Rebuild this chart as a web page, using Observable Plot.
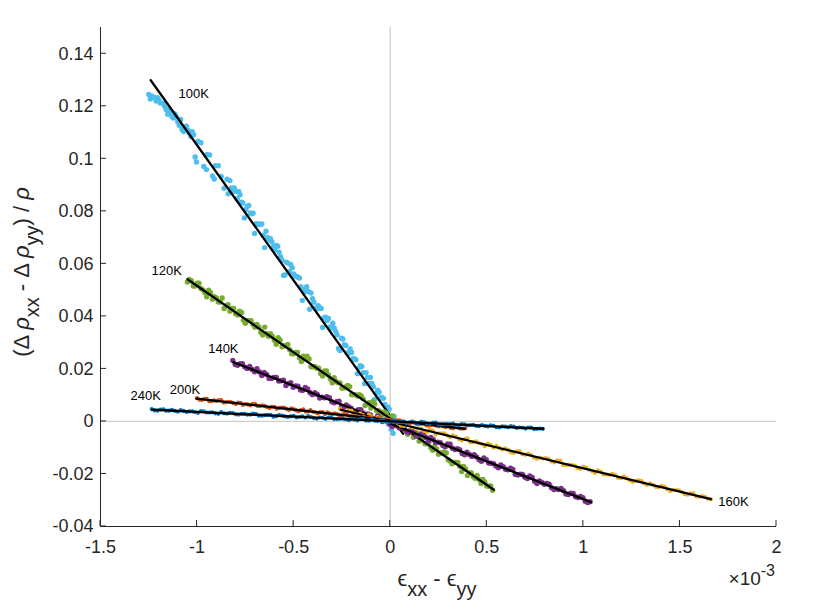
<!DOCTYPE html>
<html><head><meta charset="utf-8">
<script src="https://cdn.jsdelivr.net/npm/d3@7"></script>
<script src="https://cdn.jsdelivr.net/npm/@observablehq/plot@0.6"></script>
<style>body{margin:0;background:#fff}#chart{width:817px;height:613px}</style>
</head><body><div id="chart"></div>
<script>
const temps = ["100K","120K","140K","160K","200K","240K"];
const colors = ["#4DBEEE","#77AC30","#7E2F8E","#EDB120","#D95319","#0072BD"];
const dotRadius = [2.7, 2.7, 2.7, 2.1, 2.1, 2.1];
const xTicks = [-1.5,-1,-0.5,0,0.5,1,1.5,2];
const yTicks = [-0.04,-0.02,0,0.02,0.04,0.06,0.08,0.1,0.12,0.14];

const pts100 = [[-1.250,0.1245],[-1.242,0.1228],[-1.235,0.1239],[-1.220,0.1234],[-1.212,0.1220],[-1.205,0.1233],[-1.198,0.1225],[-1.190,0.1213],[-1.175,0.1212],[-1.168,0.1200],[-1.160,0.1187],[-1.152,0.1170],[-1.145,0.1191],[-1.138,0.1180],[-1.130,0.1161],[-1.122,0.1155],[-1.115,0.1171],[-1.108,0.1160],[-1.100,0.1140],[-1.092,0.1128],[-1.085,0.1150],[-1.078,0.1112],[-1.070,0.1104],[-1.062,0.1118],[-1.055,0.1124],[-1.048,0.1110],[-1.040,0.1098],[-1.032,0.1085],[-1.025,0.1103],[-1.018,0.1092],[-1.010,0.1007],[-1.003,0.0988],[-0.995,0.1067],[-0.980,0.1061],[-0.965,0.0971],[-0.951,0.0959],[-0.950,0.1016],[-0.935,0.1015],[-0.920,0.0935],[-0.911,0.0923],[-0.905,0.0974],[-0.890,0.0974],[-0.875,0.0933],[-0.860,0.0888],[-0.845,0.0922],[-0.839,0.0867],[-0.830,0.0917],[-0.815,0.0877],[-0.800,0.0876],[-0.785,0.0876],[-0.770,0.0835],[-0.755,0.0775],[-0.740,0.0819],[-0.725,0.0794],[-0.710,0.0793],[-0.695,0.0753],[-0.680,0.0752],[-0.665,0.0752],[-0.650,0.0662],[-0.635,0.0701],[-0.620,0.0696],[-0.605,0.0665],[-0.590,0.0670],[-0.575,0.0644],[-0.560,0.0614],[-0.545,0.0558],[-0.530,0.0603],[-0.515,0.0598],[-0.500,0.0562],[-0.485,0.0552],[-0.470,0.0546],[-0.455,0.0461],[-0.440,0.0495],[-0.425,0.0495],[-0.410,0.0489],[-0.395,0.0454],[-0.380,0.0428],[-0.365,0.0433],[-0.350,0.0358],[-0.335,0.0397],[-0.320,0.0392],[-0.305,0.0356],[-0.290,0.0356],[-0.275,0.0330],[-0.260,0.0270],[-0.245,0.0314],[-0.230,0.0289],[-0.215,0.0259],[-0.200,0.0263],[-0.185,0.0238],[-0.170,0.0182],[-0.155,0.0212],[-0.140,0.0186],[-0.125,0.0186],[-0.110,0.0145],[-0.095,0.0145],[-0.080,0.0084],[-0.065,0.0119],[-0.050,0.0089],[-0.035,0.0088],[-0.020,0.0033],[-0.010,-0.0010],[-0.005,0.0047],[0.000,0.0010],[0.005,-0.0030],[0.010,0.0002],[0.015,-0.0045],[0.020,0.0020],[0.025,0.0001],[0.030,-0.0015]];
const pts100b = [[-0.8225,0.0889],[-0.8075,0.0889],[-0.7925,0.0848],[-0.7775,0.0863],[-0.7625,0.0832],[-0.7475,0.0807],[-0.7325,0.0822],[-0.7175,0.0791],[-0.7025,0.0716],[-0.6875,0.0750],[-0.6725,0.0750],[-0.6575,0.0709],[-0.6425,0.0724],[-0.6275,0.0693],[-0.6125,0.0683],[-0.5975,0.0653],[-0.5825,0.0667],[-0.5675,0.0627],[-0.5525,0.0556],[-0.5375,0.0606],[-0.5225,0.0570],[-0.5075,0.0585],[-0.4925,0.0554],[-0.4775,0.0549],[-0.4625,0.0513],[-0.4475,0.0503],[-0.4325,0.0513],[-0.4175,0.0427],[-0.4025,0.0467],[-0.3875,0.0431],[-0.3725,0.0441],[-0.3575,0.0430],[-0.3425,0.0395],[-0.3275,0.0384],[-0.3125,0.0359],[-0.2975,0.0374],[-0.2825,0.0343],[-0.2675,0.0278],[-0.2525,0.0317],[-0.2375,0.0292],[-0.2225,0.0261],[-0.2075,0.0276],[-0.1925,0.0240],[-0.1775,0.0235],[-0.1625,0.0204],[-0.1475,0.0209],[-0.1325,0.0144],[-0.1175,0.0168],[-0.1025,0.0168],[-0.0875,0.0132],[-0.0725,0.0107],[-0.0575,0.0111],[-0.0425,0.0091],[-0.0275,0.0065],[-0.0125,0.0055]];

const pts120 = [[-1.05,0.0531],[-1.03,0.0536],[-1.01,0.0516],[-0.99,0.0526],[-0.97,0.0501],[-0.95,0.0475],[-0.93,0.0490],[-0.91,0.0475],[-0.89,0.0455],[-0.87,0.0470],[-0.85,0.0440],[-0.83,0.0420],[-0.81,0.0430],[-0.79,0.0405],[-0.77,0.0415],[-0.75,0.0374],[-0.73,0.0384],[-0.71,0.0369],[-0.69,0.0369],[-0.67,0.0339],[-0.65,0.0359],[-0.63,0.0324],[-0.61,0.0324],[-0.59,0.0294],[-0.57,0.0309],[-0.55,0.0288],[-0.53,0.0293],[-0.51,0.0258],[-0.49,0.0263],[-0.47,0.0243],[-0.45,0.0248],[-0.43,0.0248],[-0.41,0.0208],[-0.39,0.0208],[-0.37,0.0203],[-0.35,0.0173],[-0.33,0.0192],[-0.31,0.0162],[-0.29,0.0167],[-0.27,0.0147],[-0.25,0.0127],[-0.23,0.0132],[-0.21,0.0132],[-0.19,0.0102],[-0.17,0.0097],[-0.15,0.0097],[-0.13,0.0061],[-0.11,0.0071],[-0.09,0.0076],[-0.07,0.0041],[-0.05,0.0036],[-0.03,0.0036],[-0.01,0.0006],[0.01,0.0021],[0.03,0.0001],[0.05,-0.0019],[0.07,-0.0024],[0.09,-0.0049],[0.11,-0.0035],[0.13,-0.0050],[0.15,-0.0075],[0.17,-0.0060],[0.19,-0.0085],[0.21,-0.0100],[0.23,-0.0095],[0.25,-0.0125],[0.27,-0.0120],[0.29,-0.0120],[0.31,-0.0151],[0.33,-0.0156],[0.35,-0.0156],[0.37,-0.0191],[0.39,-0.0181],[0.41,-0.0196],[0.43,-0.0211],[0.45,-0.0206],[0.47,-0.0236],[0.49,-0.0231],[0.51,-0.0247],[0.53,-0.0262]];
const pts120b = [[-1.04,0.0541],[-1.02,0.0516],[-1.00,0.0526],[-0.98,0.0506],[-0.96,0.0491],[-0.94,0.0500],[-0.92,0.0465],[-0.90,0.0470],[-0.88,0.0455],[-0.86,0.0430],[-0.84,0.0445],[-0.82,0.0430],[-0.80,0.0410],[-0.78,0.0420],[-0.76,0.0385],[-0.74,0.0384],[-0.72,0.0384],[-0.70,0.0359],[-0.68,0.0359],[-0.66,0.0329],[-0.64,0.0334],[-0.62,0.0334],[-0.60,0.0309],[-0.58,0.0319],[-0.56,0.0284],[-0.54,0.0288],[-0.52,0.0273],[-0.50,0.0258],[-0.48,0.0263],[-0.46,0.0228],[-0.44,0.0238],[-0.42,0.0238],[-0.40,0.0208],[-0.38,0.0203],[-0.36,0.0183],[-0.34,0.0192],[-0.32,0.0177],[-0.30,0.0147],[-0.28,0.0152],[-0.26,0.0147],[-0.24,0.0127],[-0.22,0.0137],[-0.20,0.0102],[-0.18,0.0102],[-0.16,0.0102],[-0.14,0.0086],[-0.12,0.0066],[-0.10,0.0051],[-0.08,0.0066],[-0.06,0.0041],[-0.04,0.0026],[-0.02,0.0031],[0.00,0.0016],[0.02,-0.0014],[0.04,-0.0009],[0.06,-0.0009],[0.08,-0.0035],[0.10,-0.0035],[0.12,-0.0060],[0.14,-0.0045],[0.16,-0.0070],[0.18,-0.0085],[0.20,-0.0080],[0.22,-0.0110],[0.24,-0.0105],[0.26,-0.0120],[0.28,-0.0116],[0.30,-0.0146],[0.32,-0.0161],[0.34,-0.0156],[0.36,-0.0171],[0.38,-0.0171],[0.40,-0.0206],[0.42,-0.0196],[0.44,-0.0216],[0.46,-0.0221],[0.48,-0.0221],[0.50,-0.0246],[0.52,-0.0246]];

const pts140 = [[-0.815,0.0232],[-0.790,0.0214],[-0.765,0.0220],[-0.740,0.0202],[-0.715,0.0198],[-0.690,0.0201],[-0.665,0.0175],[-0.640,0.0179],[-0.615,0.0164],[-0.590,0.0168],[-0.565,0.0155],[-0.540,0.0137],[-0.515,0.0148],[-0.490,0.0135],[-0.465,0.0120],[-0.440,0.0129],[-0.415,0.0109],[-0.390,0.0109],[-0.365,0.0089],[-0.340,0.0090],[-0.315,0.0090],[-0.290,0.0071],[-0.265,0.0077],[-0.240,0.0055],[-0.215,0.0056],[-0.190,0.0037],[-0.165,0.0045],[-0.140,0.0032],[-0.115,0.0029],[-0.090,0.0011],[-0.065,0.0021],[-0.040,0.0000],[-0.015,0.0001],[0.010,-0.0019],[0.035,-0.0017],[0.060,-0.0018],[0.085,-0.0038],[0.110,-0.0037],[0.135,-0.0056],[0.160,-0.0048],[0.185,-0.0061],[0.210,-0.0061],[0.235,-0.0080],[0.260,-0.0081],[0.285,-0.0096],[0.310,-0.0087],[0.335,-0.0107],[0.360,-0.0108],[0.385,-0.0127],[0.410,-0.0126],[0.435,-0.0127],[0.460,-0.0146],[0.485,-0.0139],[0.510,-0.0158],[0.535,-0.0161],[0.560,-0.0176],[0.585,-0.0172],[0.610,-0.0184],[0.635,-0.0183],[0.660,-0.0204],[0.685,-0.0202],[0.710,-0.0217],[0.735,-0.0213],[0.760,-0.0236],[0.785,-0.0232],[0.810,-0.0236],[0.835,-0.0252],[0.860,-0.0256],[0.885,-0.0255],[0.910,-0.0276],[0.935,-0.0273],[0.960,-0.0287],[0.985,-0.0286],[1.010,-0.0304],[1.035,-0.0306]];
const pts140b = [[-0.8025,0.0217],[-0.7775,0.0220],[-0.7525,0.0207],[-0.7275,0.0209],[-0.7025,0.0189],[-0.6775,0.0188],[-0.6525,0.0187],[-0.6275,0.0164],[-0.6025,0.0168],[-0.5775,0.0154],[-0.5525,0.0157],[-0.5275,0.0144],[-0.5025,0.0130],[-0.4775,0.0134],[-0.4525,0.0119],[-0.4275,0.0124],[-0.4025,0.0102],[-0.3775,0.0103],[-0.3525,0.0092],[-0.3275,0.0094],[-0.3025,0.0075],[-0.2775,0.0075],[-0.2525,0.0057],[-0.2275,0.0063],[-0.2025,0.0050],[-0.1775,0.0038],[-0.1525,0.0045],[-0.1275,0.0027],[-0.1025,0.0025],[-0.0775,0.0007],[-0.0525,0.0008],[-0.0275,0.0006],[-0.0025,-0.0011],[0.0225,-0.0007],[0.0475,-0.0025],[0.0725,-0.0029],[0.0975,-0.0042],[0.1225,-0.0038],[0.1475,-0.0053],[0.1725,-0.0051],[0.1975,-0.0074],[0.2225,-0.0069],[0.2475,-0.0079],[0.2725,-0.0092],[0.2975,-0.0086],[0.3225,-0.0102],[0.3475,-0.0104],[0.3725,-0.0122],[0.3975,-0.0117],[0.4225,-0.0133],[0.4475,-0.0135],[0.4725,-0.0152],[0.4975,-0.0146],[0.5225,-0.0159],[0.5475,-0.0170],[0.5725,-0.0166],[0.5975,-0.0182],[0.6225,-0.0178],[0.6475,-0.0201],[0.6725,-0.0201],[0.6975,-0.0212],[0.7225,-0.0208],[0.7475,-0.0228],[0.7725,-0.0227],[0.7975,-0.0239],[0.8225,-0.0239],[0.8475,-0.0259],[0.8725,-0.0259],[0.8975,-0.0264],[0.9225,-0.0278],[0.9475,-0.0274],[0.9725,-0.0290],[0.9975,-0.0290],[1.0225,-0.0309]];

const pts160 = [[-0.26,0.0049],[-0.23,0.0037],[-0.20,0.0041],[-0.17,0.0024],[-0.14,0.0024],[-0.11,0.0026],[-0.08,0.0011],[-0.05,0.0011],[-0.02,-0.0003],[0.01,0.0002],[0.04,-0.0008],[0.07,-0.0017],[0.10,-0.0012],[0.13,-0.0027],[0.16,-0.0027],[0.19,-0.0042],[0.22,-0.0035],[0.25,-0.0045],[0.28,-0.0045],[0.31,-0.0060],[0.34,-0.0058],[0.37,-0.0072],[0.40,-0.0064],[0.43,-0.0079],[0.46,-0.0083],[0.49,-0.0094],[0.52,-0.0089],[0.55,-0.0093],[0.58,-0.0107],[0.61,-0.0108],[0.64,-0.0120],[0.67,-0.0113],[0.70,-0.0127],[0.73,-0.0128],[0.76,-0.0142],[0.79,-0.0141],[0.82,-0.0142],[0.85,-0.0156],[0.88,-0.0149],[0.91,-0.0166],[0.94,-0.0166],[0.97,-0.0178],[1.00,-0.0173],[1.03,-0.0184],[1.06,-0.0196],[1.09,-0.0191],[1.12,-0.0202],[1.15,-0.0200],[1.18,-0.0215],[1.21,-0.0209],[1.24,-0.0224],[1.27,-0.0227],[1.30,-0.0226],[1.33,-0.0242],[1.36,-0.0241],[1.39,-0.0251],[1.42,-0.0248],[1.45,-0.0265],[1.48,-0.0261],[1.51,-0.0269],[1.54,-0.0279],[1.57,-0.0274],[1.60,-0.0287],[1.63,-0.0287],[1.66,-0.0296]];
const pts160b = [[-0.245,0.0040],[-0.215,0.0042],[-0.185,0.0031],[-0.155,0.0031],[-0.125,0.0015],[-0.095,0.0018],[-0.065,0.0017],[-0.035,0.0001],[-0.005,0.0000],[0.025,-0.0002],[0.055,-0.0016],[0.085,-0.0009],[0.115,-0.0023],[0.145,-0.0026],[0.175,-0.0036],[0.205,-0.0032],[0.235,-0.0050],[0.265,-0.0045],[0.295,-0.0053],[0.325,-0.0053],[0.355,-0.0067],[0.385,-0.0067],[0.415,-0.0080],[0.445,-0.0076],[0.475,-0.0086],[0.505,-0.0084],[0.535,-0.0100],[0.565,-0.0101],[0.595,-0.0102],[0.625,-0.0118],[0.655,-0.0114],[0.685,-0.0125],[0.715,-0.0122],[0.745,-0.0138],[0.775,-0.0138],[0.805,-0.0140],[0.835,-0.0152],[0.865,-0.0148],[0.895,-0.0166],[0.925,-0.0165],[0.955,-0.0168],[0.985,-0.0180],[1.015,-0.0176],[1.045,-0.0189],[1.075,-0.0186],[1.105,-0.0202],[1.135,-0.0203],[1.165,-0.0204],[1.195,-0.0216],[1.225,-0.0217],[1.255,-0.0230],[1.285,-0.0224],[1.315,-0.0236],[1.345,-0.0237],[1.375,-0.0249],[1.405,-0.0245],[1.435,-0.0258],[1.465,-0.0261],[1.495,-0.0262],[1.525,-0.0277],[1.555,-0.0274],[1.585,-0.0286],[1.615,-0.0284],[1.645,-0.0294]];

const pts200 = [[-1.000,0.0089],[-0.975,0.0082],[-0.950,0.0086],[-0.925,0.0077],[-0.900,0.0078],[-0.875,0.0081],[-0.850,0.0073],[-0.825,0.0074],[-0.800,0.0066],[-0.775,0.0071],[-0.750,0.0066],[-0.725,0.0061],[-0.700,0.0067],[-0.675,0.0058],[-0.650,0.0059],[-0.625,0.0051],[-0.600,0.0056],[-0.575,0.0051],[-0.550,0.0053],[-0.525,0.0044],[-0.500,0.0047],[-0.475,0.0039],[-0.450,0.0046],[-0.425,0.0038],[-0.400,0.0037],[-0.375,0.0031],[-0.350,0.0036],[-0.325,0.0035],[-0.300,0.0027],[-0.275,0.0028],[-0.250,0.0022],[-0.225,0.0027],[-0.200,0.0019],[-0.175,0.0020],[-0.150,0.0012],[-0.125,0.0014],[-0.100,0.0015],[-0.075,0.0007],[-0.050,0.0013],[-0.025,0.0004],[0.000,0.0005],[0.025,-0.0001],[0.050,0.0004],[0.075,-0.0002],[0.100,-0.0008],[0.125,-0.0003],[0.150,-0.0010],[0.175,-0.0008],[0.200,-0.0016],[0.225,-0.0011],[0.250,-0.0019],[0.275,-0.0019],[0.300,-0.0017],[0.325,-0.0026],[0.350,-0.0023],[0.375,-0.0027]];
const pts200b = [[-0.9875,0.0083],[-0.9625,0.0086],[-0.9375,0.0077],[-0.9125,0.0080],[-0.8875,0.0081],[-0.8625,0.0072],[-0.8375,0.0075],[-0.8125,0.0070],[-0.7875,0.0072],[-0.7625,0.0063],[-0.7375,0.0065],[-0.7125,0.0067],[-0.6875,0.0059],[-0.6625,0.0061],[-0.6375,0.0054],[-0.6125,0.0056],[-0.5875,0.0048],[-0.5625,0.0053],[-0.5375,0.0048],[-0.5125,0.0050],[-0.4875,0.0042],[-0.4625,0.0043],[-0.4375,0.0037],[-0.4125,0.0043],[-0.3875,0.0035],[-0.3625,0.0036],[-0.3375,0.0028],[-0.3125,0.0030],[-0.2875,0.0031],[-0.2625,0.0023],[-0.2375,0.0028],[-0.2125,0.0020],[-0.1875,0.0020],[-0.1625,0.0013],[-0.1375,0.0018],[-0.1125,0.0013],[-0.0875,0.0008],[-0.0625,0.0013],[-0.0375,0.0006],[-0.0125,0.0007],[0.0125,-0.0001],[0.0375,0.0004],[0.0625,-0.0001],[0.0875,-0.0005],[0.1125,-0.0001],[0.1375,-0.0010],[0.1625,-0.0008],[0.1875,-0.0015],[0.2125,-0.0012],[0.2375,-0.0016],[0.2625,-0.0015],[0.2875,-0.0022],[0.3125,-0.0025],[0.3375,-0.0020],[0.3625,-0.0027],[0.3875,-0.0026]];

const pts240 = [[-1.235,0.0047],[-1.205,0.0041],[-1.175,0.0046],[-1.145,0.0041],[-1.115,0.0040],[-1.085,0.0043],[-1.055,0.0036],[-1.025,0.0038],[-0.995,0.0033],[-0.965,0.0038],[-0.935,0.0034],[-0.905,0.0031],[-0.875,0.0036],[-0.845,0.0030],[-0.815,0.0032],[-0.785,0.0026],[-0.755,0.0029],[-0.725,0.0026],[-0.695,0.0028],[-0.665,0.0022],[-0.635,0.0025],[-0.605,0.0018],[-0.575,0.0024],[-0.545,0.0019],[-0.515,0.0019],[-0.485,0.0015],[-0.455,0.0019],[-0.425,0.0020],[-0.395,0.0013],[-0.365,0.0015],[-0.335,0.0010],[-0.305,0.0014],[-0.275,0.0009],[-0.245,0.0011],[-0.215,0.0005],[-0.185,0.0007],[-0.155,0.0009],[-0.125,0.0003],[-0.095,0.0008],[-0.065,0.0002],[-0.035,0.0003],[-0.005,-0.0002],[0.025,0.0003],[0.055,-0.0002],[0.085,-0.0007],[0.115,-0.0002],[0.145,-0.0006],[0.175,-0.0003],[0.205,-0.0009],[0.235,-0.0004],[0.265,-0.0011],[0.295,-0.0010],[0.325,-0.0008],[0.355,-0.0015],[0.385,-0.0011],[0.415,-0.0014],[0.445,-0.0017],[0.475,-0.0014],[0.505,-0.0019],[0.535,-0.0017],[0.565,-0.0023],[0.595,-0.0020],[0.625,-0.0018],[0.655,-0.0025],[0.685,-0.0024],[0.715,-0.0023],[0.745,-0.0029],[0.775,-0.0027],[0.790,-0.0028]];
const pts240b = [[-1.22,0.0042],[-1.19,0.0045],[-1.16,0.0041],[-1.13,0.0044],[-1.10,0.0037],[-1.07,0.0040],[-1.04,0.0038],[-1.01,0.0035],[-0.98,0.0039],[-0.95,0.0034],[-0.92,0.0035],[-0.89,0.0029],[-0.86,0.0031],[-0.83,0.0033],[-0.80,0.0027],[-0.77,0.0029],[-0.74,0.0026],[-0.71,0.0030],[-0.68,0.0022],[-0.65,0.0024],[-0.62,0.0025],[-0.59,0.0020],[-0.56,0.0022],[-0.53,0.0017],[-0.50,0.0021],[-0.47,0.0017],[-0.44,0.0015],[-0.41,0.0017],[-0.38,0.0011],[-0.35,0.0014],[-0.32,0.0015],[-0.29,0.0009],[-0.26,0.0010],[-0.23,0.0008],[-0.20,0.0010],[-0.17,0.0004],[-0.14,0.0010],[-0.11,0.0003],[-0.08,0.0003],[-0.05,0.0004],[-0.02,-0.0001],[0.01,0.0003],[0.04,-0.0004],[0.07,-0.0001],[0.10,-0.0003],[0.13,-0.0006],[0.16,-0.0002],[0.19,-0.0007],[0.22,-0.0005],[0.25,-0.0011],[0.28,-0.0010],[0.31,-0.0010],[0.34,-0.0014],[0.37,-0.0010],[0.40,-0.0015],[0.43,-0.0013],[0.46,-0.0018],[0.49,-0.0017],[0.52,-0.0015],[0.55,-0.0022],[0.58,-0.0019],[0.61,-0.0022],[0.64,-0.0020],[0.67,-0.0023],[0.70,-0.0027],[0.73,-0.0023],[0.76,-0.0028]];

const seriesPoints = [pts100.concat(pts100b), pts120.concat(pts120b), pts140.concat(pts140b),
                      pts160.concat(pts160b), pts200.concat(pts200b), pts240.concat(pts240b)];

// linear fits (y = intercept + slope * x) and the x extent they were drawn over
const fitSlope     = [-0.1030, -0.0505, -0.02878, -0.01778, -0.00824, -0.00358];
const fitIntercept = [ 0.0022,  0.0011, -0.0008,  -0.0001,   0.0004,   0.00005];
const fitXStart    = [-1.240, -1.050, -0.813, -0.256, -1.003, -1.233];
const fitXEnd      = [ 0.067,  0.5365, 1.039,  1.660,  0.386,  0.792];

// temperature label anchors (data units)
const labelX = [-1.096, -1.236, -0.9425, 1.699, -1.141, -1.345];
const labelY = [0.1246, 0.0575, 0.0278, -0.0306, 0.0122, 0.0096];

const FONT = "'Liberation Sans', Arial, Helvetica, sans-serif";
const AXIS = "#262626";

const marks = [
  Plot.ruleX([0], {stroke: "#cfcfcf", strokeWidth: 1.3}),
  Plot.ruleY([0], {stroke: "#cfcfcf", strokeWidth: 1.3})
];
temps.forEach((t, i) => {
  const pts = seriesPoints[i].map(([x, y]) => ({x, y, temp: t}));
  marks.push(Plot.dot(pts, {x: "x", y: "y", r: dotRadius[i], fill: colors[i]}));
  const fit = [fitXStart[i], fitXEnd[i]].map(x => ({x, y: fitIntercept[i] + fitSlope[i] * x}));
  marks.push(Plot.line(fit, {x: "x", y: "y", stroke: "black", strokeWidth: 2.3}));
});
const labels = temps.map((t, i) => ({t, x: labelX[i], y: labelY[i]}));
marks.push(Plot.text(labels, {x: "x", y: "y", text: "t", textAnchor: "start", fontSize: 13, fill: "black"}));
marks.push(Plot.ruleX([xTicks[0]], {stroke: AXIS, strokeWidth: 1}));
marks.push(Plot.ruleY([yTicks[0]], {stroke: AXIS, strokeWidth: 1}));
marks.push(Plot.axisX({ticks: xTicks, tickSize: 0, tickPadding: 14, tickFormat: d => String(d), fontSize: 18, color: AXIS, label: null}));
marks.push(Plot.axisY({ticks: yTicks, tickSize: 0, tickPadding: 7, tickFormat: d => String(d), fontSize: 18, color: AXIS, label: null}));
marks.push(function innerTicks(index, scales, values, dimensions) {
  const {height, marginLeft, marginBottom} = dimensions;
  const yb = height - marginBottom;
  const g = d3.create("svg:g").attr("stroke", AXIS).attr("stroke-width", 1);
  for (const t of xTicks) {
    const px = scales.x(t);
    g.append("line").attr("x1", px).attr("x2", px).attr("y1", yb).attr("y2", yb - 6);
  }
  for (const t of yTicks) {
    const py = scales.y(t);
    g.append("line").attr("x1", marginLeft).attr("x2", marginLeft + 6).attr("y1", py).attr("y2", py);
  }
  return g.node();
});

const plot = Plot.plot({
  width: 817, height: 613,
  marginLeft: 100, marginRight: 41, marginTop: 27, marginBottom: 87,
  x: {domain: [-1.5, 2]},
  y: {domain: [-0.04, 0.15]},
  style: {fontFamily: FONT, background: "white", overflow: "visible"},
  marks
});

const svg = d3.select(plot);
// x axis title: ϵ_xx - ϵ_yy
const xt = svg.append("text").attr("x", 437).attr("y", 586).attr("text-anchor", "middle")
  .attr("fill", AXIS).style("font-family", FONT).style("font-size", "22px");
xt.append("tspan").text("ϵ");
xt.append("tspan").attr("dy", 10).style("font-size", "20px").text("xx");
xt.append("tspan").attr("dy", -10).text(" - ϵ");
xt.append("tspan").attr("dy", 10).style("font-size", "20px").text("yy");

// y axis title: (Δ ρ_xx - Δ ρ_yy) / ρ
const yt = svg.append("text").attr("transform", "translate(29,272) rotate(-90)").attr("text-anchor", "middle")
  .attr("fill", AXIS).style("font-family", FONT).style("font-size", "22px");
yt.append("tspan").text("(Δ ");
yt.append("tspan").style("font-style", "italic").text("ρ");
yt.append("tspan").attr("dy", 10).style("font-size", "20px").text("xx");
yt.append("tspan").attr("dy", -10).text(" - Δ ");
yt.append("tspan").style("font-style", "italic").text("ρ");
yt.append("tspan").attr("dy", 10).style("font-size", "20px").text("yy");
yt.append("tspan").attr("dy", -10).text(") / ");
yt.append("tspan").style("font-style", "italic").text("ρ");

// exponent note
const ex = svg.append("text").attr("x", 775).attr("y", 585).attr("text-anchor", "end")
  .attr("fill", AXIS).style("font-family", FONT).style("font-size", "19px");
ex.append("tspan").text("×10");
ex.append("tspan").attr("dy", -9).style("font-size", "16px").text("-3");

document.getElementById("chart").append(plot);
</script></body></html>
